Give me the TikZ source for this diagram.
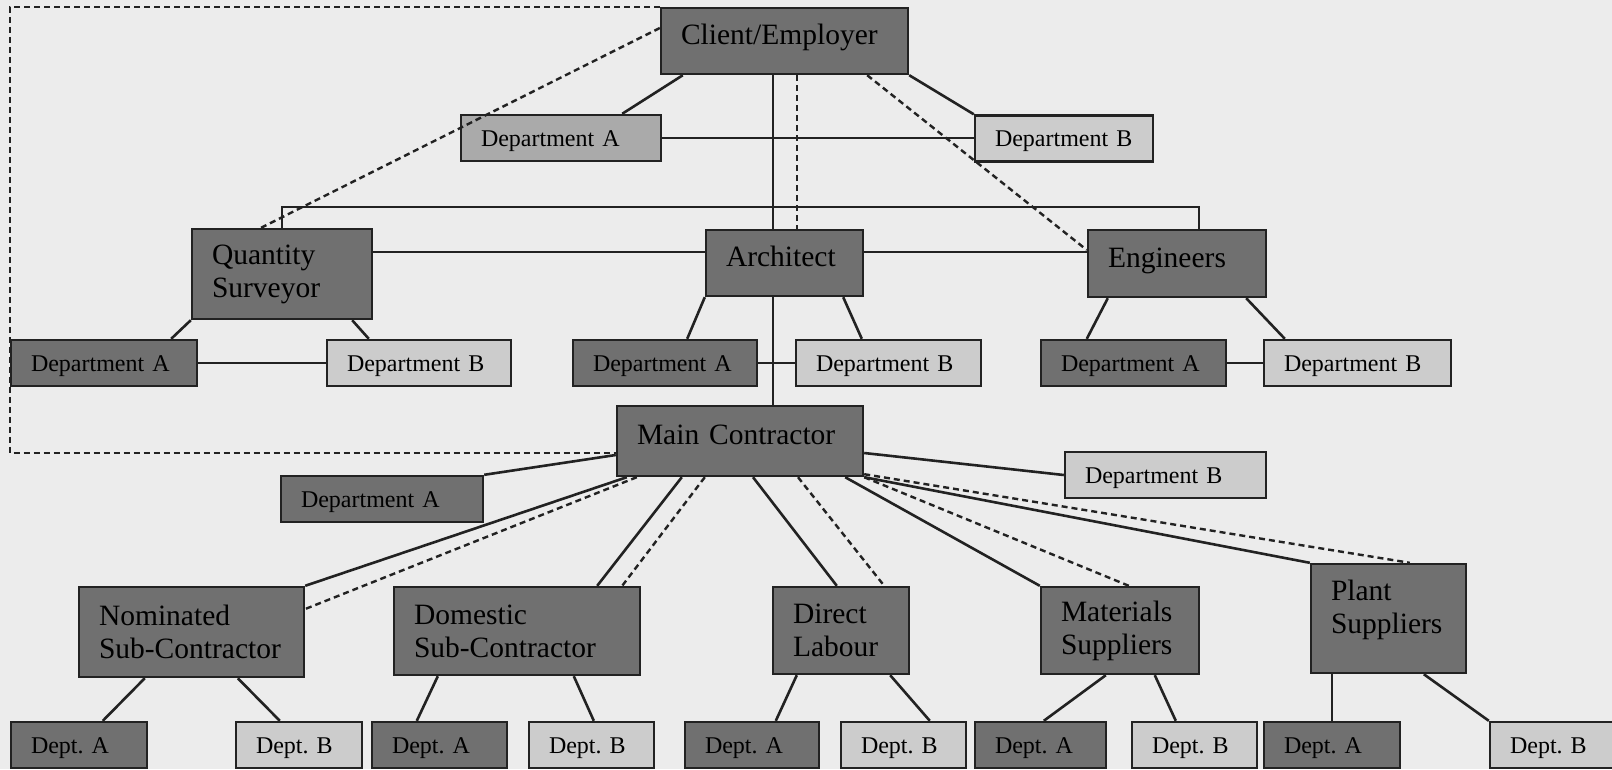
\documentclass[tikz,border=0pt]{standalone}
\usepackage{fontspec}
\setmainfont{Liberation Serif}
\definecolor{darkfill}{RGB}{112,112,112}
\definecolor{midfill}{RGB}{170,170,170}
\definecolor{lightfill}{RGB}{204,204,204}
\definecolor{edge}{RGB}{34,34,34}
\definecolor{paper}{RGB}{236,236,236}
\tikzset{
  box/.style={draw=edge, line width=2.4pt, inner xsep=20pt, inner ysep=0pt, align=left},
  bigbox/.style={box, fill=darkfill, font=\fontsize{29.5}{33}\selectfont},
  oneline/.style={text height=20.6pt, text depth=13.3pt},
  deptbox/.style={box, font=\fontsize{24}{28}\selectfont, text height=16pt, text depth=0pt, minimum height=46pt},
  deptdark/.style={deptbox, fill=darkfill},
  deptmid/.style={deptbox, fill=midfill},
  deptlight/.style={deptbox, fill=lightfill},
  link/.style={draw=edge, line width=2.6pt},
  duty/.style={draw=edge, line width=2.4pt, dash pattern=on 6pt off 4pt},
}
\begin{document}
\frenchspacing
\begin{tikzpicture}[x=1pt, y=-1pt]
  \fill[paper] (0,0) rectangle (1612,769);
  \useasboundingbox (0,0) rectangle (1612,769);

  \node[bigbox, oneline, text width=207pt, minimum height=66pt] (client) at (784.5,41) {Client/Employer};
  \node[deptmid, text width=160pt] (cdeptA) at (561,138) {Department A};
  \node[deptlight, text width=138pt] (cdeptB) at (1064,138.5) {Department B};

  \node[bigbox, text width=140pt, minimum height=90pt] (qs) at (282,274) {Quantity\\Surveyor};
  \node[bigbox, oneline, text width=117pt, minimum height=66pt] (arch) at (784.5,263) {Architect};
  \node[bigbox, oneline, text width=138pt, minimum height=67pt] (eng) at (1177,263.5) {Engineers};

  \node[deptdark, text width=146pt] (qsA) at (104,363) {Department A};
  \node[deptlight, text width=144pt] (qsB) at (419,363) {Department B};
  \node[deptdark, text width=144pt] (arA) at (665,363) {Department A};
  \node[deptlight, text width=145pt] (arB) at (888.5,363) {Department B};
  \node[deptdark, text width=145pt] (enA) at (1133.5,363) {Department A};
  \node[deptlight, text width=147pt] (enB) at (1357.5,363) {Department B};

  \node[bigbox, oneline, text width=206pt, minimum height=70pt] (mc) at (740,441) {Main Contractor};
  \node[deptdark, text width=162pt] (mcA) at (382,499) {Department A};
  \node[deptlight, text width=161pt] (mcB) at (1165.5,475) {Department B};

  \node[bigbox, text width=185pt, minimum height=90pt] (nom) at (191.5,632) {Nominated\\Sub-Contractor};
  \node[bigbox, text width=206pt, minimum height=88pt] (dom) at (517,631) {Domestic\\Sub-Contractor};
  \node[bigbox, text width=96pt, minimum height=87pt] (dl) at (841,630.5) {Direct\\Labour};
  \node[bigbox, text width=118pt, minimum height=87pt] (ms) at (1120,630.5) {Materials\\Suppliers};
  \node[bigbox, text width=115pt, minimum height=109pt, text depth=57pt] (ps) at (1388.5,618.5) {Plant\\Suppliers};

  \node[deptdark, text width=96pt] (nA) at (79,745) {Dept. A};
  \node[deptlight, text width=86pt] (nB) at (299,745) {Dept. B};
  \node[deptdark, text width=95pt] (dA) at (439.5,745) {Dept. A};
  \node[deptlight, text width=85pt] (dB) at (591.5,745) {Dept. B};
  \node[deptdark, text width=94pt] (lA) at (752,745) {Dept. A};
  \node[deptlight, text width=85pt] (lB) at (903.5,745) {Dept. B};
  \node[deptdark, text width=91pt] (mA) at (1040.5,745) {Dept. A};
  \node[deptlight, text width=85pt] (mB) at (1194.5,745) {Dept. B};
  \node[deptdark, text width=96pt] (pA) at (1332,745) {Dept. A};
  \node[deptlight, text width=110pt] (pB) at (1565,745) {Dept. B};

  % client side
  \draw[duty] (client.north west) -| (qsA.north west) |- ([yshift=-12pt]mc.west);
  \draw[link] ([xshift=23pt]client.south west) -- ([xshift=-40pt]cdeptA.north east);
  \draw[link] (client.south east) -- (cdeptB.north west);
  \draw[link] (cdeptA.east) -- (cdeptA.east -| cdeptB.west);
  \draw[link] ([xshift=-11.5pt]client.south) -- ([xshift=-11.5pt]arch.north);
  \draw[link] ([xshift=-11.5pt]arch.south) -- ([xshift=-11.5pt]arch.south |- mc.north);
  \draw[duty] ([xshift=12.5pt]client.south) -- ([xshift=12.5pt]arch.north);
  \draw[duty] ([yshift=13pt]client.west) -- ([xshift=-21pt]qs.north);
  \draw[duty] ([xshift=-42pt]client.south east) -- ([yshift=13.5pt]eng.west);
  \draw[link] (qs.north) -- ++(0,-21) -| ([xshift=22pt]eng.north);
  \draw[link] ([yshift=11pt]arch.west) -- ([yshift=11pt]arch.west -| qs.east);
  \draw[link] ([yshift=11pt]arch.east) -- ([yshift=11pt]arch.east -| eng.west);

  \draw[link] (qs.south west) -- ([xshift=-27pt]qsA.north east);
  \draw[link] ([xshift=-21pt]qs.south east) -- ([xshift=43pt]qsB.north west);
  \draw[link] (qsA.east) -- (qsB.west);
  \draw[link] (arch.south west) -- ([xshift=-71pt]arA.north east);
  \draw[link] ([xshift=-21pt]arch.south east) -- ([xshift=67pt]arB.north west);
  \draw[link] (arA.east) -- (arB.west);
  \draw[link] ([xshift=21pt]eng.south west) -- ([xshift=47pt]enA.north west);
  \draw[link] ([xshift=-21pt]eng.south east) -- ([xshift=22pt]enB.north west);
  \draw[link] (enA.east) -- (enB.west);

  % contractor side
  \draw[link] ([yshift=-14pt]mc.west) -- (mcA.north east);
  \draw[link] ([yshift=-12pt]mc.east) -- (mcB.west);
  \draw[link] ([xshift=11pt]mc.south west) -- (nom.north east);
  \draw[duty] ([xshift=21pt]mc.south west) -- ([yshift=23pt]nom.east);
  \draw[link] ([xshift=66pt]mc.south west) -- ([xshift=-44pt]dom.north east);
  \draw[duty] ([xshift=89pt]mc.south west) -- ([xshift=-19pt]dom.north east);
  \draw[link] ([xshift=13pt]mc.south) -- ([xshift=65pt]dl.north west);
  \draw[duty] ([xshift=58pt]mc.south) -- ([xshift=-26pt]dl.north east);
  \draw[link] ([xshift=-19pt]mc.south east) -- (ms.north west);
  \draw[duty] (mc.south east) -- ([xshift=89pt]ms.north west);
  \draw[link] (mc.south east) -- (ps.north west);
  \draw[duty] ([yshift=3pt]mc.south east) -- ([xshift=100pt]ps.north west);

  \draw[link] ([xshift=67pt]nom.south west) -- ([xshift=93pt]nA.north west);
  \draw[link] ([xshift=160pt]nom.south west) -- ([xshift=45pt]nB.north west);
  \draw[link] ([xshift=45pt]dom.south west) -- ([xshift=46pt]dA.north west);
  \draw[link] ([xshift=181pt]dom.south west) -- ([xshift=66pt]dB.north west);
  \draw[link] ([xshift=25pt]dl.south west) -- ([xshift=92pt]lA.north west);
  \draw[link] ([xshift=-20pt]dl.south east) -- ([xshift=90pt]lB.north west);
  \draw[link] ([xshift=66pt]ms.south west) -- ([xshift=70pt]mA.north west);
  \draw[link] ([xshift=115pt]ms.south west) -- ([xshift=45pt]mB.north west);
  \draw[link] ([xshift=22pt]ps.south west) -- ([xshift=22pt]ps.south west |- pA.north);
  \draw[link] ([xshift=114pt]ps.south west) -- (pB.north west);
\end{tikzpicture}
\end{document}
